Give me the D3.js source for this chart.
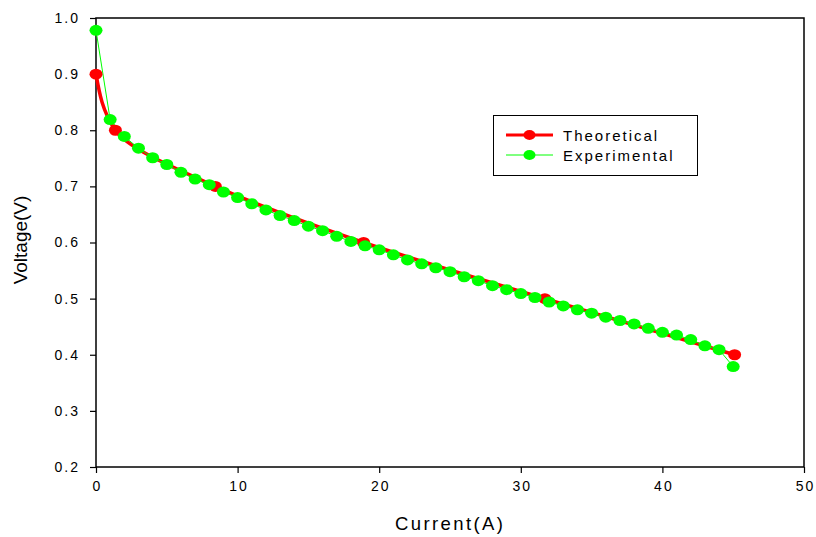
<!DOCTYPE html>
<html><head><meta charset="utf-8">
<script src="https://cdn.jsdelivr.net/npm/d3@7"></script>
<style>body{margin:0;background:#fff}text{font-family:"Liberation Sans",Arial,sans-serif;fill:#000}</style>
</head><body><svg id="c" width="816" height="537"></svg>
<script>
const theoCurrent = [0, 1.37, 8.43, 18.9, 31.7, 45.1];
const theoVoltage = [0.9, 0.8, 0.7, 0.6, 0.5, 0.4];
const expCurrent = [0,1,2,3,4,5,6,7,8,9,10,11,12,13,14,15,16,17,18,19,20,21,22,23,24,25,26,27,28,29,30,31,32,33,34,35,36,37,38,39,40,41,42,43,44,45];
const expVoltage = [0.978,0.819,0.789,0.768,0.751,0.739,0.725,0.713,0.703,0.690,0.680,0.669,0.658,0.648,0.639,0.629,0.621,0.611,0.602,0.594,0.587,0.578,0.569,0.562,0.555,0.548,0.539,0.532,0.523,0.516,0.509,0.502,0.494,0.487,0.480,0.474,0.467,0.461,0.455,0.447,0.440,0.435,0.427,0.416,0.409,0.379];
const xTicks = [0,10,20,30,40,50];
const yTicks = [0.2,0.3,0.4,0.5,0.6,0.7,0.8,0.9,1.0];
const seriesNames = ["Theoretical","Experimental"];

const svg = d3.select("#c");
const L=96, R=804, T=18, B=467;
const x = d3.scaleLinear().domain([0,50]).range([L,R]);
const y = d3.scaleLinear().domain([0.2,1.0]).range([B,T]);

// frame
svg.append("rect").attr("x",L).attr("y",T).attr("width",R-L).attr("height",B-T)
  .attr("fill","none").attr("stroke","#000").attr("stroke-width",1.5);

const xa = svg.append("g").attr("transform",`translate(0,${B})`)
  .call(d3.axisBottom(x).tickValues(xTicks).tickSize(6).tickPadding(8).tickFormat(d3.format("d")));
const ya = svg.append("g").attr("transform",`translate(${L},0)`)
  .call(d3.axisLeft(y).tickValues(yTicks).tickSize(6).tickPadding(10).tickFormat(d3.format(".1f")));
[xa,ya].forEach(a=>{
  a.select(".domain").remove();
  a.selectAll("line").attr("stroke","#000").attr("stroke-width",1.2);
  a.selectAll("text").style("font-size","14px").style("letter-spacing","2px")
    .style("font-family","'Liberation Sans',Arial,sans-serif").attr("fill","#000");
});
xa.selectAll("text").attr("dx","1px");

const theo = theoCurrent.map((c,i)=>[c,theoVoltage[i]]);
const exp = expCurrent.map((c,i)=>[c,expVoltage[i]]);

svg.append("path").datum(theo)
  .attr("d",d3.line().x(d=>x(d[0])).y(d=>y(d[1])).curve(d3.curveMonotoneY))
  .attr("fill","none").attr("stroke","#ff0000").attr("stroke-width",3.5);
svg.append("path").datum(exp)
  .attr("d",d3.line().x(d=>x(d[0])).y(d=>y(d[1])))
  .attr("fill","none").attr("stroke","#00ff00").attr("stroke-width",1);
svg.append("g").selectAll("ellipse").data(theo).join("ellipse")
  .attr("cx",d=>x(d[0])).attr("cy",d=>y(d[1])).attr("rx",6.5).attr("ry",5.5).attr("fill","#ff0000");
svg.append("g").selectAll("ellipse").data(exp).join("ellipse")
  .attr("cx",d=>x(d[0])).attr("cy",d=>y(d[1])).attr("rx",6.5).attr("ry",5.5).attr("fill","#00ff00");

// legend
const lg = svg.append("g");
lg.append("rect").attr("x",493.5).attr("y",115.5).attr("width",204).attr("height",60)
  .attr("fill","#fff").attr("stroke","#000").attr("stroke-width",1);
const lcol = ["#ff0000","#00ff00"], lw=[3,1];
seriesNames.forEach((n,i)=>{
  const yy = 135 + i*20;
  lg.append("line").attr("x1",506).attr("x2",553).attr("y1",yy).attr("y2",yy)
    .attr("stroke",lcol[i]).attr("stroke-width",lw[i]);
  lg.append("ellipse").attr("cx",529.5).attr("cy",yy).attr("rx",6).attr("ry",5).attr("fill",lcol[i]);
  lg.append("text").attr("x",563).attr("y",yy+5.5).text(n)
    .style("font-size","15px").style("letter-spacing","2px");
});

svg.append("text").attr("x",395).attr("y",529.5)
  .style("font-size","18.5px").style("letter-spacing","2.4px").text("Current(A)");
svg.append("text").attr("transform",`translate(27,240) rotate(-90)`).attr("text-anchor","middle")
  .style("font-size","19px").text("Voltage(V)");
</script></body></html>
